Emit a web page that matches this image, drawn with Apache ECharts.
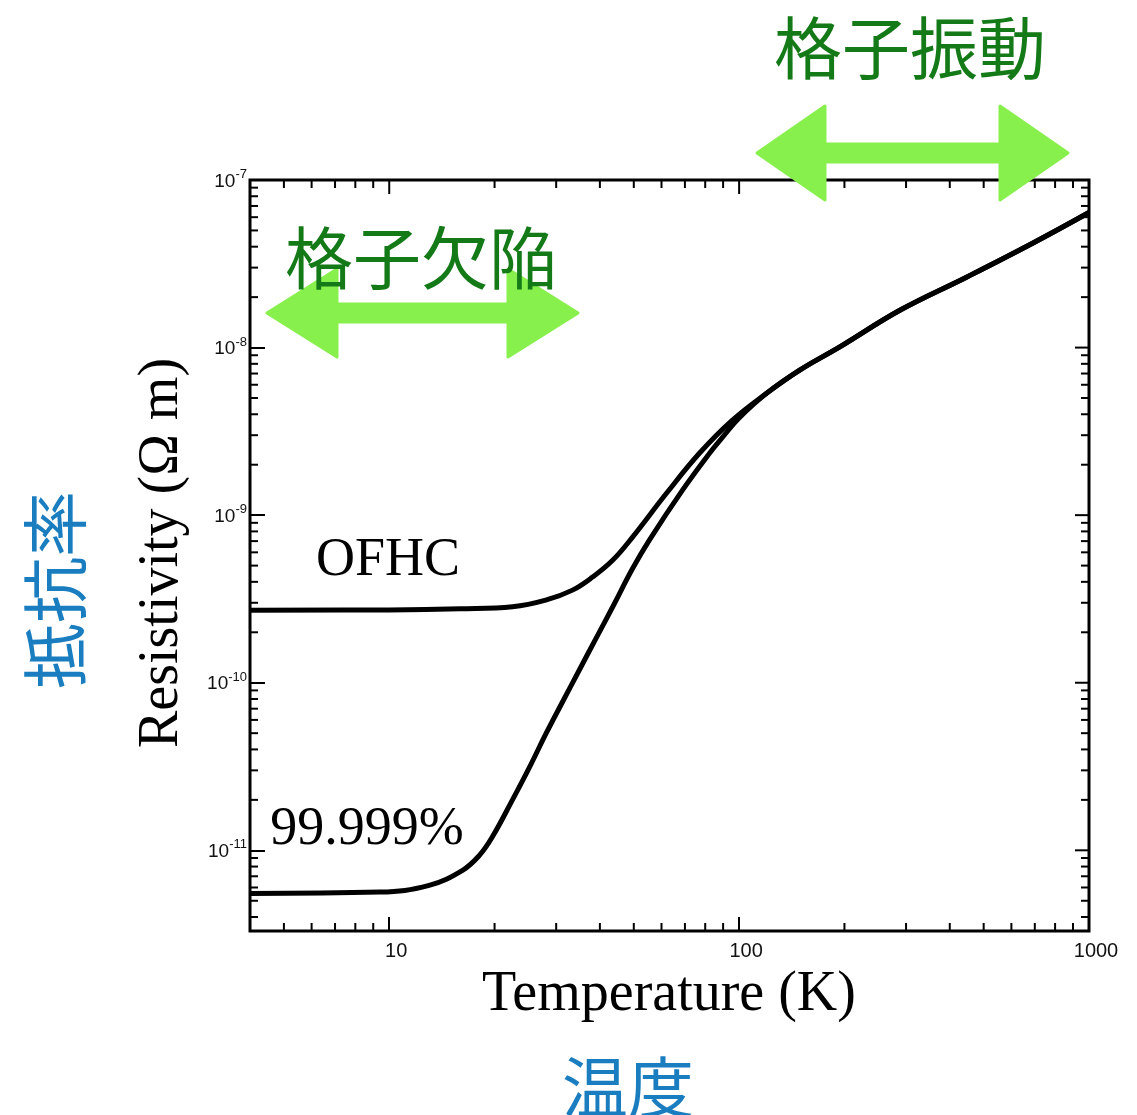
<!DOCTYPE html>
<html>
<head>
<meta charset="utf-8">
<script src="https://cdn.jsdelivr.net/npm/echarts@6/dist/echarts.min.js"></script>
<style>
  html, body { margin: 0; padding: 0; background: #ffffff; }
  #chart { width: 1137px; height: 1115px; }
</style>
</head>
<body>
<div id="chart"></div>
<script>
// Resistivity of copper vs temperature: OFHC and 99.999% pure samples
const temperatureOFHC = [4, 10, 16, 22.5, 28, 33.4, 38.1, 43.5, 49.6, 62, 77, 95.7, 120, 149, 194, 288, 448, 692, 1000];
const resistivityOFHC = [2.71e-10, 2.72e-10, 2.76e-10, 2.84e-10, 3.11e-10, 3.57e-10, 4.27e-10, 5.38e-10, 7.4e-10, 1.35e-9, 2.34e-9, 3.69e-9, 5.35e-9, 7.34e-9, 1.01e-8, 1.67e-8, 2.64e-8, 4.21e-8, 6.4e-8];

const temperaturePure = [4, 9.4, 13, 16.2, 18.1, 19.7, 22.5, 25.2, 28.1, 31.3, 35, 39.1, 43.5, 49.6, 55.4, 68.9, 82.3, 89.7, 100, 120, 149, 194, 288, 448, 692, 1000];
const resistivityPure = [5.53e-12, 5.63e-12, 6.18e-12, 7.6e-12, 9.33e-12, 1.2e-11, 2.0e-11, 3.15e-11, 5.0e-11, 7.7e-11, 1.2e-10, 1.86e-10, 2.83e-10, 4.8e-10, 7.1e-10, 1.41e-9, 2.34e-9, 2.92e-9, 3.8e-9, 5.35e-9, 7.34e-9, 1.01e-8, 1.67e-8, 2.64e-8, 4.21e-8, 6.4e-8];

const xMajorTicks = [10, 100, 1000];
const yMajorTicks = [1e-11, 1e-10, 1e-9, 1e-8, 1e-7];
const X_MIN = 4, X_MAX = 1000;
const Y_MIN = 3.3e-12, Y_MAX = 1e-7;

// minor ticks at 2..9 of every decade inside the axis range
function minorTicks(lo, hi) {
  const out = [];
  for (let e = Math.floor(Math.log10(lo)); e <= Math.ceil(Math.log10(hi)); e++) {
    for (let m = 2; m <= 9; m++) {
      const v = m * Math.pow(10, e);
      if (v > lo * 1.0001 && v < hi * 0.9999) out.push(v);
    }
  }
  return out;
}
const xMinorTicks = minorTicks(X_MIN, X_MAX);
const yMinorTicks = minorTicks(Y_MIN, Y_MAX);

const zip = (xs, ys) => xs.map((x, i) => [x, ys[i]]);
const isPow10 = v => Math.abs(Math.log10(v) - Math.round(Math.log10(v))) < 1e-6;

const TICK = { stroke: '#000', lineWidth: 2 };

function tickSeries(name, data, vertical, len, both) {
  return {
    name, type: 'custom', silent: true, z: 5,
    data,
    encode: { x: 0, y: 1 },
    renderItem(params, api) {
      const cs = params.coordSys;
      const p = api.coord([api.value(0), api.value(1)]);
      const kids = [];
      if (vertical) {
        const b = cs.y + cs.height, t = cs.y;
        if (both) kids.push({ type: 'line', shape: { x1: p[0], y1: b, x2: p[0], y2: b - len }, style: TICK });
        kids.push({ type: 'line', shape: { x1: p[0], y1: t, x2: p[0], y2: t + len }, style: TICK });
      } else {
        const l = cs.x, r = cs.x + cs.width;
        if (both) kids.push({ type: 'line', shape: { x1: l, y1: p[1], x2: l + len, y2: p[1] }, style: TICK });
        kids.push({ type: 'line', shape: { x1: r, y1: p[1], x2: r - len, y2: p[1] }, style: TICK });
      }
      return { type: 'group', children: kids };
    }
  };
}

const GREEN_ARROW = '#88f04c';
function arrowShape(xl, xr, yc, headLen, headHalf, shaftHalf) {
  return [
    [xl, yc],
    [xl + headLen, yc - headHalf],
    [xl + headLen, yc - shaftHalf],
    [xr - headLen, yc - shaftHalf],
    [xr - headLen, yc - headHalf],
    [xr, yc],
    [xr - headLen, yc + headHalf],
    [xr - headLen, yc + shaftHalf],
    [xl + headLen, yc + shaftHalf],
    [xl + headLen, yc + headHalf]
  ];
}

const chart = echarts.init(document.getElementById('chart'), null, { renderer: 'canvas' });

chart.setOption({
  backgroundColor: '#ffffff',
  animation: false,
  grid: {
    left: 250, top: 180, width: 839, height: 751,
    show: true, borderColor: '#000', borderWidth: 3, backgroundColor: 'transparent'
  },
  xAxis: {
    type: 'log', logBase: 10, min: X_MIN, max: X_MAX,
    axisLine: { show: false },
    splitLine: { show: false },
    axisTick: { show: true, inside: true, length: 14, lineStyle: { color: '#000', width: 2 } },
    axisLabel: {
      margin: 10, color: '#111', fontFamily: 'Liberation Sans', fontSize: 20,
      padding: [0, 0, 0, 14],
      formatter: v => (isPow10(v) && v >= 10) ? String(Math.round(v)) : ''
    }
  },
  yAxis: {
    type: 'log', logBase: 10, min: Y_MIN, max: Y_MAX,
    axisLine: { show: false },
    splitLine: { show: false },
    axisTick: { show: true, inside: true, length: 15, lineStyle: { color: '#000', width: 2 } },
    axisLabel: {
      margin: 3, color: '#111',
      formatter: v => isPow10(v) ? '{b|10}{s|' + Math.round(Math.log10(v)) + '}' : '',
      rich: {
        b: { fontFamily: 'Liberation Sans', fontSize: 19, color: '#111', verticalAlign: 'bottom', lineHeight: 22 },
        s: { fontFamily: 'Liberation Sans', fontSize: 13, color: '#111', verticalAlign: 'bottom', lineHeight: 22, padding: [0, 0, 10, 0] }
      }
    }
  },
  series: [
    {
      name: 'OFHC', type: 'line', data: zip(temperatureOFHC, resistivityOFHC),
      showSymbol: false, smooth: 0.4, clip: true, z: 3,
      lineStyle: { color: '#000', width: 5 }
    },
    {
      name: '99.999%', type: 'line', data: zip(temperaturePure, resistivityPure),
      showSymbol: false, smooth: 0.4, clip: true, z: 3,
      lineStyle: { color: '#000', width: 5 }
    },
    tickSeries('xMinor', xMinorTicks.map(v => [v, Y_MIN]), true, 8, true),
    tickSeries('yMinor', yMinorTicks.map(v => [X_MIN, v]), false, 8, true),
    tickSeries('xMajorTop', xMajorTicks.map(v => [v, Y_MIN]), true, 14, false),
    tickSeries('yMajorRight', yMajorTicks.map(v => [X_MIN, v]), false, 14, false)
  ],
  graphic: [
    // hand-drawn style double arrows
    { type: 'polygon', z: 20, shape: { points: arrowShape(757, 1068, 153, 68, 47, 9) },
      style: { fill: GREEN_ARROW, stroke: GREEN_ARROW, lineWidth: 3, lineJoin: 'round' } },
    { type: 'polygon', z: 20, shape: { points: arrowShape(267, 578, 313, 70, 44, 9) },
      style: { fill: GREEN_ARROW, stroke: GREEN_ARROW, lineWidth: 3, lineJoin: 'round' } },
    { type: 'text', z: 30, x: 910, y: 48,
      style: { text: '格子振動', font: '68px "Noto Sans CJK JP"', fill: '#137a17', align: 'center', verticalAlign: 'middle' } },
    { type: 'text', z: 30, x: 421, y: 258,
      style: { text: '格子欠陥', font: '68px "Noto Sans CJK JP"', fill: '#137a17', align: 'center', verticalAlign: 'middle' } },
    { type: 'text', z: 30, x: 388, y: 561,
      style: { text: 'OFHC', font: '54px "Liberation Serif"', fill: '#000', align: 'center', verticalAlign: 'middle' } },
    { type: 'text', z: 30, x: 367, y: 830,
      style: { text: '99.999%', font: '54px "Liberation Serif"', fill: '#000', align: 'center', verticalAlign: 'middle' } },
    { type: 'text', z: 30, x: 669, y: 995,
      style: { text: 'Temperature (K)', font: '56px "Liberation Serif"', fill: '#000', align: 'center', verticalAlign: 'middle' } },
    { type: 'text', z: 30, x: 162, y: 553, rotation: Math.PI / 2,
      style: { text: 'Resistivity (Ω m)', font: '56px "Liberation Serif"', fill: '#000', align: 'center', verticalAlign: 'middle' } },
    { type: 'text', z: 30, x: 55, y: 590, rotation: Math.PI / 2,
      style: { text: '抵抗率', font: '66px "Noto Sans CJK JP"', fill: '#1a7dc0', align: 'center', verticalAlign: 'middle' } },
    { type: 'text', z: 30, x: 628, y: 1087,
      style: { text: '温度', font: '66px "Noto Sans CJK JP"', fill: '#1a7dc0', align: 'center', verticalAlign: 'middle' } }
  ]
});
</script>
</body>
</html>
